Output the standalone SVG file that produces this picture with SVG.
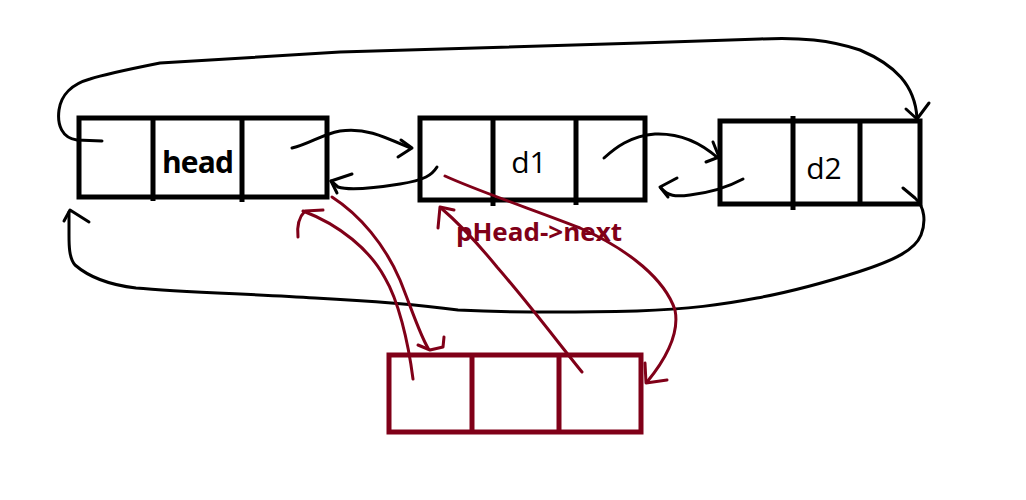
<svg xmlns="http://www.w3.org/2000/svg" width="1026" height="500" viewBox="0 0 1026 500">
<style>
.box{fill:none;stroke:#000;stroke-width:5}
.div{stroke:#000;stroke-width:5}
.rbox{fill:none;stroke:#800018;stroke-width:5}
.rdiv{stroke:#800018;stroke-width:5}
.c{fill:none;stroke:#000;stroke-width:3;stroke-linecap:round;stroke-linejoin:round}
.r{fill:none;stroke:#800018;stroke-width:3;stroke-linecap:round;stroke-linejoin:round}
.t{font-family:"Open Sans","Noto Sans",sans-serif;font-size:30px;fill:#000}
</style>
<rect width="1026" height="500" fill="#fff"/>
<g id="head">
<rect class="box" x="79" y="118" width="248" height="79"/>
<line class="div" x1="153" y1="118" x2="153" y2="201"/>
<line class="div" x1="242" y1="118" x2="242" y2="202"/>
<text class="t" x="198" y="173" text-anchor="middle" font-weight="bold" textLength="72">head</text>
</g>
<g id="d1">
<rect class="box" x="420" y="118" width="225" height="82"/>
<line class="div" x1="493" y1="118" x2="493" y2="206"/>
<line class="div" x1="576" y1="118" x2="576" y2="205"/>
<text class="t" x="529" y="173" text-anchor="middle">d1</text>
</g>
<g id="d2">
<rect class="box" x="720" y="121" width="200" height="83"/>
<line class="div" x1="793" y1="116" x2="793" y2="210"/>
<line class="div" x1="860" y1="121" x2="860" y2="204"/>
<text class="t" x="824" y="179" text-anchor="middle">d2</text>
</g>
<g id="newNode">
<rect class="rbox" x="389" y="355" width="252" height="77"/>
<line class="rdiv" x1="472" y1="355" x2="472" y2="432"/>
<line class="rdiv" x1="559" y1="355" x2="559" y2="432"/>
</g>
<g id="label">
<text x="456" y="241" font-family="'Open Sans','Noto Sans',sans-serif" font-size="25" font-weight="bold" fill="#800018" textLength="166" lengthAdjust="spacingAndGlyphs">pHead-&gt;next</text>
</g>
<g id="connectors">
<path class="c" d="M102,141 L77,140 C62,138 57,125 59,110 C61,95 72,84 90,79 C105,74 125,70 160,63 L340,52 L640,43 L760,39 C800,37 830,40 860,50 C895,65 915,85 917,118"/>
<path class="c" d="M906,109 L917,119 L929,103"/>
<path class="c" d="M903,188 L915,198 C925,207 926,222 921,235 C915,250 895,260 858,272 C820,284 790,292 757,298 C720,305 690,309 637,311 C560,313 500,312 458,310 C420,305 390,302 315,298 C250,294 180,292 136,288 C110,285 90,278 75,265 C69,258 69,245 69,235 L69,212"/>
<path class="c" d="M64,221 L70,210 L89,222"/>
<path class="c" d="M292,148 C310,144 320,135 340,131 C365,127 385,137 410,148"/>
<path class="c" d="M401,140 L412,148 L398,157"/>
<path class="c" d="M437,167 C432,175 425,180 400,184 C375,188 350,191 338,187 L331,181"/>
<path class="c" d="M352,174 L331,181 L337,193"/>
<path class="c" d="M604,158 C615,148 630,136 655,134 C680,133 700,142 718,158"/>
<path class="c" d="M713,142 L719,157 L706,162"/>
<path class="c" d="M743,179 C730,186 715,192 690,195 C675,197 668,196 661,188"/>
<path class="c" d="M677,178 L660,187 L668,197"/>
<path class="r" d="M413,379 C408,340 398,300 385,278 C370,250 340,225 303,211"/>
<path class="r" d="M323,210 L305,211 C298,218 297,228 298,237"/>
<path class="r" d="M332,197 C360,215 385,245 400,280 C412,310 420,335 428,348"/>
<path class="r" d="M418,345 L430,350 L443,347 L444,337"/>
<path class="r" d="M582,372 C560,345 530,305 497,267 C475,240 455,220 441,208"/>
<path class="r" d="M454,210 L440,207 L438,228"/>
<path class="r" d="M445,176 C480,192 540,212 580,228 C630,250 665,280 675,310 C680,335 665,360 647,382"/>
<path class="r" d="M645,363 L646,383 L667,380"/>
</g>
</svg>
